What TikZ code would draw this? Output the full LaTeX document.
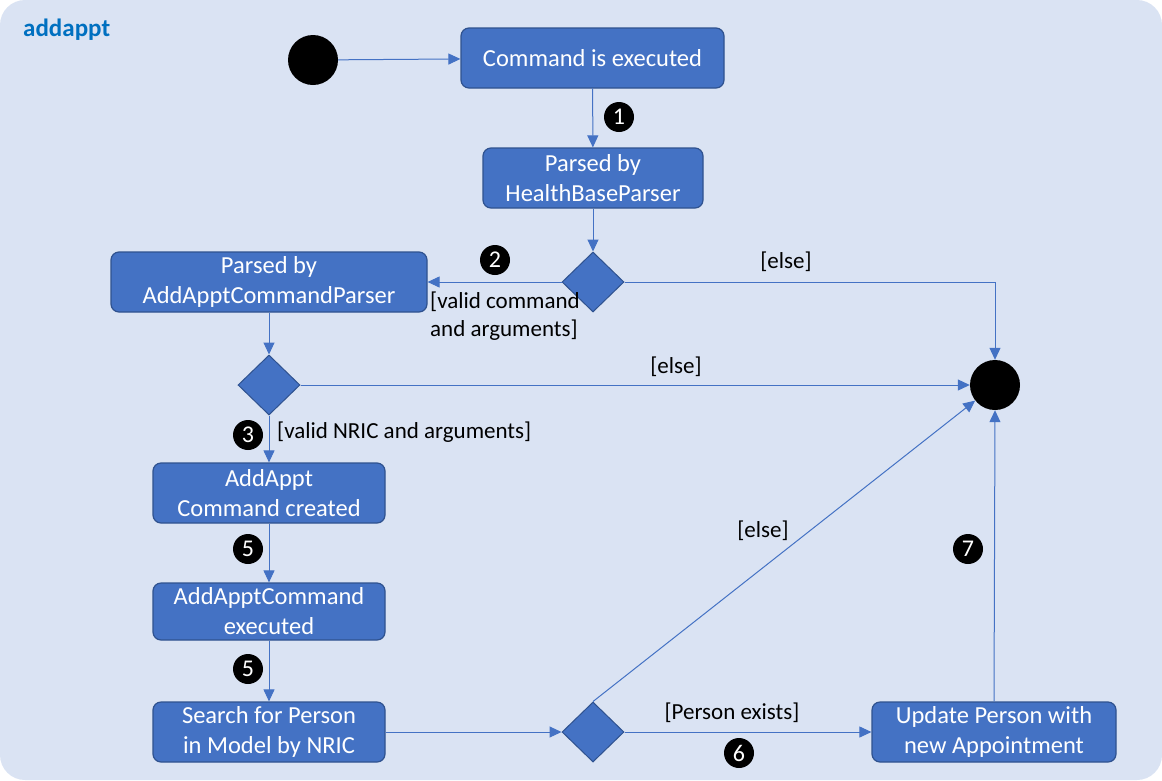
\documentclass[tikz,border=0pt]{standalone}
\usepackage{fontspec}
\setmainfont{Carlito}
\usetikzlibrary{arrows.meta,shapes.geometric}
\definecolor{panel}{HTML}{DAE3F3}
\definecolor{boxfill}{HTML}{4472C4}
\definecolor{boxedge}{HTML}{2F528F}
\definecolor{titleblue}{HTML}{0070C0}
\begin{document}
\begin{tikzpicture}[x=1pt,y=-1pt,
  act/.style={draw=boxedge, fill=boxfill, rounded corners=8pt, line width=1.2pt,
    text=white, align=center, font=\fontsize{24.5}{30}\selectfont,
    minimum height=60pt, inner sep=0pt},
  choice/.style={diamond, draw=boxedge, fill=boxfill, line width=1pt,
    minimum width=62pt, minimum height=60pt, inner sep=0pt},
  dot/.style={circle, fill=black, minimum size=50pt, inner sep=0pt},
  badge/.style={circle, fill=black, minimum size=30pt, inner sep=0pt,
    text=white, font=\fontsize{24}{24}\selectfont},
  guard/.style={font=\fontsize{23}{28}\selectfont, inner sep=0pt},
  flow/.style={draw=boxfill, line width=1pt, -{Triangle[length=12pt,width=11pt]}}]

% panel
\path[fill=panel, rounded corners=25pt] (0,0) rectangle (1162,780);
\useasboundingbox (0,0) rectangle (1162,780);

\node[anchor=west, text=titleblue, font=\bfseries\fontsize{25}{25}\selectfont, inner sep=0pt]
  (title) at (23,30) {addappt};

% states and activities
\node[dot] (start) at (313,60) {};
\node[dot] (stop) at (995,385) {};
\node[act, minimum width=263pt] (exec) at (592.5,58) {Command is executed};
\node[act, minimum width=220pt] (hbp) at (593,178) {Parsed by\\HealthBaseParser};
\node[choice] (d1) at (593,282) {};
\node[act, minimum width=316pt] (aap) at (269,282) {Parsed by\\AddApptCommandParser};
\node[choice] (d2) at (269,385) {};
\node[act, minimum width=232pt] (created) at (269,493) {AddAppt\\Command created};
\node[act, minimum width=232pt, minimum height=57pt] (run) at (269,611.5) {AddApptCommand\\executed};
\node[act, minimum width=232pt] (search) at (269,732) {Search for Person\\in Model by NRIC};
\node[choice] (d3) at (593,732) {};
\node[act, minimum width=244pt] (update) at (994,732) {Update Person with\\new Appointment};

% transitions
\draw[flow] (start) -- (exec);
\draw[flow] (exec) -- (hbp);
\draw[flow] (hbp) -- (d1);
\draw[flow] (d1) -- (aap);
\draw[flow] (d1.east) -| (stop.north);
\draw[flow] (aap) -- (d2);
\draw[flow] (d2) -- (stop);
\draw[flow] (d2) -- (created);
\draw[flow] (created) -- (run);
\draw[flow] (run) -- (search);
\draw[flow] (search) -- (d3);
\draw[flow] (d3) -- (update);
\draw[flow] (d3.north) -- (stop);
\draw[flow] (update.north) -- (stop.south);

% guards
\node[guard] (g1) at (786,262) {[else]};
\node[guard, anchor=north west, align=left] (g2) at (430,292) {[valid command\\and arguments]};
\node[guard] (g3) at (676,367) {[else]};
\node[guard, anchor=west] (g4) at (277,432) {[valid NRIC and arguments]};
\node[guard] (g5) at (763,531) {[else]};
\node[guard] (g6) at (732,713) {[Person exists]};

% step numbers
\node[badge] (b1) at (619,117) {1};
\node[badge] (b2) at (495,260) {2};
\node[badge] (b3) at (248,435) {3};
\node[badge] (b4) at (248,549) {5};
\node[badge] (b5) at (248,669) {5};
\node[badge] (b6) at (739,753) {6};
\node[badge] (b7) at (968,549) {7};
\end{tikzpicture}
\end{document}
